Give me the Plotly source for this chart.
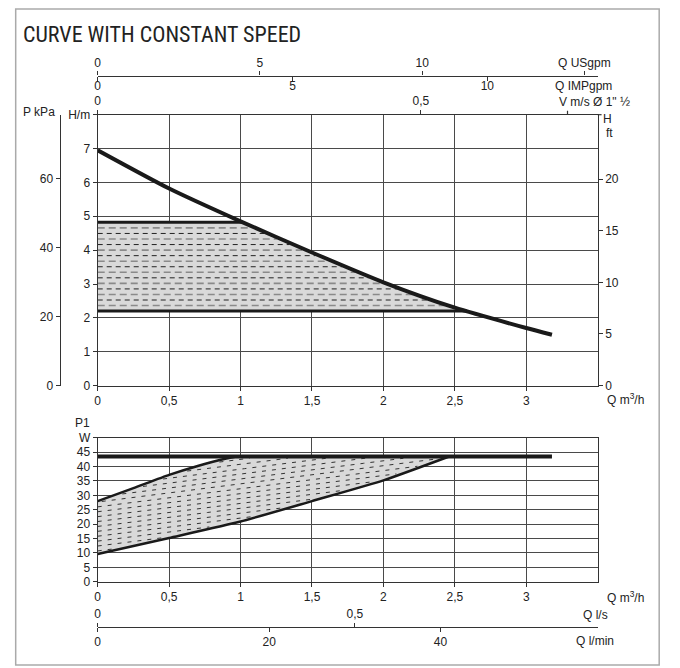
import numpy as np
import plotly.graph_objects as go

# ---------------- data ----------------
# Head curve (constant speed)
q_head = [0.0, 0.5, 1.0, 1.5, 2.0, 2.5, 3.0, 3.18]
h_head = [6.95, 5.82, 4.85, 3.93, 3.05, 2.30, 1.70, 1.50]
h_band_min = 2.2
h_band_max = 4.82

# Power P1
p1_max_q = [0.0, 0.25, 0.5, 0.7, 0.9, 0.97]
p1_max_w = [28.0, 32.5, 37.1, 40.2, 42.8, 43.5]
p1_min_q = [0.0, 0.5, 1.0, 1.5, 2.0, 2.46]
p1_min_w = [9.6, 15.2, 20.9, 28.0, 35.2, 43.5]
p1_cap_w = 43.5
p1_cap_q_end = 3.18

# axes ticks
q_ticks = [0, 0.5, 1, 1.5, 2, 2.5, 3]
q_ticktext = ["0", "0,5", "1", "1,5", "2", "2,5", "3"]
h_ticks = [0, 1, 2, 3, 4, 5, 6, 7, 8]
h_ticktext = ["0", "1", "2", "3", "4", "5", "6", "7", "H/m"]
kpa_ticks = [0, 20, 40, 60]
ft_ticks = [0, 5, 10, 15, 20]
usgpm_ticks = [0, 5, 10, 15]
usgpm_text = ["0", "5", "10", "Q USgpm"]
impgpm_ticks = [0, 5, 10]
v_ticks = [0, 0.5]
v_text = ["0", "0,5"]
v_unit_tick = 0.727
p1_ticks = [0, 5, 10, 15, 20, 25, 30, 35, 40, 45, 50]
p1_text = ["0", "5", "10", "15", "20", "25", "30", "35", "40", "45", "W"]
ls_ticks = [0, 0.5]
ls_text = ["0", "0,5"]
lmin_ticks = [0, 20, 40]

# unit conversions
Q_MAX = 3.5
H_MAX = 8.0
M_TO_KPA = 9.80665
M_TO_FT = 3.28084
M3H_TO_USGPM = 4.40287
M3H_TO_IMPGPM = 3.66615
M3H_TO_VMS = 1 / (3600 * np.pi * 0.04 ** 2 / 4)
M3H_TO_LS = 1 / 3.6
M3H_TO_LMIN = 1000 / 60

W, H = 680, 668
def px(x): return x / W
def py(y): return 1 - y / H

XDOM = [px(97), px(609)]
UP_DOM = [py(386.7), py(110)]
LO_DOM = [py(587), py(440)]

INK = "#1a1a1a"
GRID = "#4a4a4a"
FILL = "#d9d9d9"
FONT = dict(family="Liberation Sans, Arial, sans-serif", size=12, color="#222")

fig = go.Figure()

# ---------------- upper chart ----------------
qh_r = np.array(q_head[::-1]); hh_r = np.array(h_head[::-1])
q_top = float(np.interp(h_band_max, hh_r, qh_r))
q_bot = float(np.interp(h_band_min, hh_r, qh_r))
qa = np.array(q_head); ha = np.array(h_head)
inner = (qa > q_top) & (qa < q_bot)
poly_q = [0, q_top] + list(qa[inner]) + [q_bot, 0, 0]
poly_h = [h_band_max, h_band_max] + list(ha[inner]) + [h_band_min, h_band_min, h_band_max]
fig.add_trace(go.Scatter(x=poly_q, y=poly_h, fill="toself", fillcolor=FILL,
                         line=dict(width=0), mode="lines", showlegend=False, hoverinfo="skip"))

# hatch (decorative dashed lines inside the band)
n_hatch = 16
for k in range(1, n_hatch):
    lvl = h_band_min + k * (h_band_max - h_band_min) / n_hatch
    qe = float(np.interp(lvl, hh_r, qh_r)) - 0.03
    if k % 2:
        ln = dict(color="#8a8a8a", width=1.6, dash="7px,4px")
    else:
        ln = dict(color="#222", width=1, dash="5px,4px")
    fig.add_trace(go.Scatter(x=[0, qe], y=[lvl, lvl], mode="lines", line=ln,
                             showlegend=False, hoverinfo="skip"))

fig.add_trace(go.Scatter(x=[0, q_top], y=[h_band_max, h_band_max], mode="lines",
                         line=dict(color=INK, width=3), showlegend=False, hoverinfo="skip"))
fig.add_trace(go.Scatter(x=[0, q_bot], y=[h_band_min, h_band_min], mode="lines",
                         line=dict(color=INK, width=3), showlegend=False, hoverinfo="skip"))
fig.add_trace(go.Scatter(x=q_head, y=h_head, mode="lines",
                         line=dict(color=INK, width=4, shape="spline", smoothing=0.6),
                         showlegend=False, hoverinfo="skip"))

# dummy traces for secondary axes
for xa, ya in [("x2", "y"), ("x3", "y"), ("x4", "y"), ("x", "y2"), ("x", "y3"),
               ("x6", "y4"), ("x7", "y4")]:
    fig.add_trace(go.Scatter(x=[None], y=[None], xaxis=xa, yaxis=ya, mode="lines",
                             showlegend=False, hoverinfo="skip"))

# ---------------- lower chart ----------------
low_q_r = p1_min_q[::-1]; low_w_r = p1_min_w[::-1]
lp_q = list(p1_max_q) + [p1_min_q[-1]] + low_q_r + [p1_max_q[0]]
lp_w = list(p1_max_w) + [p1_cap_w] + low_w_r + [p1_max_w[0]]
fig.add_trace(go.Scatter(x=lp_q, y=lp_w, fill="toself", fillcolor=FILL, line=dict(width=0),
                         mode="lines", xaxis="x5", yaxis="y4", showlegend=False, hoverinfo="skip"))

# slanted dashed hatch rows (decorative)
qs = np.linspace(0, p1_min_q[-1], 700)
upper_b = np.interp(qs, p1_max_q, p1_max_w)
lower_b = np.interp(qs, p1_min_q, p1_min_w)
slope = 6.3
c = -8.0
while c < p1_cap_w:
    row = c + slope * qs
    ok = (row > lower_b + 0.6) & (row < upper_b - 0.6)
    if ok.any():
        yv = np.where(ok, row, np.nan)
        fig.add_trace(go.Scatter(x=qs, y=yv, mode="lines", xaxis="x5", yaxis="y4",
                                 line=dict(color="#333", width=1, dash="4px,6px"),
                                 connectgaps=False, showlegend=False, hoverinfo="skip"))
    c += 1.7

fig.add_trace(go.Scatter(x=p1_max_q, y=p1_max_w, mode="lines", xaxis="x5", yaxis="y4",
                         line=dict(color=INK, width=2.5, shape="spline", smoothing=0.5),
                         showlegend=False, hoverinfo="skip"))
fig.add_trace(go.Scatter(x=p1_min_q, y=p1_min_w, mode="lines", xaxis="x5", yaxis="y4",
                         line=dict(color=INK, width=2.5, shape="spline", smoothing=0.5),
                         showlegend=False, hoverinfo="skip"))
fig.add_trace(go.Scatter(x=[0, p1_cap_q_end], y=[p1_cap_w, p1_cap_w], mode="lines",
                         xaxis="x5", yaxis="y4", line=dict(color=INK, width=4),
                         showlegend=False, hoverinfo="skip"))

# ---------------- axes ----------------
axline = dict(showline=True, linecolor="#333", linewidth=1.2, zeroline=False,
              ticks="outside", ticklen=4, tickcolor="#333", tickfont=FONT)

fig.update_layout(
    width=W, height=H, margin=dict(l=0, r=0, t=0, b=0),
    paper_bgcolor="white", plot_bgcolor="white", font=FONT, showlegend=False,
    xaxis=dict(domain=XDOM, range=[0, Q_MAX], anchor="y", side="bottom",
               tickvals=q_ticks, ticktext=q_ticktext, showgrid=True,
               gridcolor=GRID, gridwidth=1, **axline),
    xaxis2=dict(overlaying="x", anchor="y", side="top",
                range=[0, Q_MAX * M3H_TO_VMS], tickvals=v_ticks, ticktext=v_text,
                showgrid=False, **axline),
    xaxis3=dict(overlaying="x", anchor="free", position=py(70), side="top",
                range=[0, Q_MAX * M3H_TO_USGPM], tickvals=usgpm_ticks, ticktext=usgpm_text,
                showgrid=False, **axline),
    xaxis4=dict(overlaying="x", anchor="free", position=py(70), side="bottom",
                range=[0, Q_MAX * M3H_TO_IMPGPM], tickvals=impgpm_ticks,
                ticklabelstandoff=-5, showgrid=False, **axline),
    yaxis=dict(domain=UP_DOM, range=[0, H_MAX], anchor="x", side="left",
               tickvals=h_ticks, ticktext=h_ticktext, showgrid=True,
               gridcolor=GRID, gridwidth=1, **axline),
    yaxis2=dict(overlaying="y", anchor="free", position=px(58), side="left",
                range=[0, H_MAX * M_TO_KPA], tickvals=kpa_ticks, showgrid=False, **axline),
    yaxis3=dict(overlaying="y", anchor="x", side="right",
                range=[0, H_MAX * M_TO_FT], tickvals=ft_ticks,
                ticktext=[str(t) for t in ft_ticks], showgrid=False, **axline),
    xaxis5=dict(domain=XDOM, range=[0, Q_MAX], anchor="y4", side="bottom",
                tickvals=q_ticks, ticktext=q_ticktext, showgrid=True, gridcolor=GRID,
                gridwidth=1, mirror=True, **axline),
    yaxis4=dict(domain=LO_DOM, range=[0, 50], anchor="x5", side="left",
                tickvals=p1_ticks, ticktext=p1_text, showgrid=True, gridcolor=GRID,
                gridwidth=1, mirror=True, **axline),
    xaxis6=dict(overlaying="x5", anchor="free", position=py(633), side="top",
                range=[0, Q_MAX * M3H_TO_LS], tickvals=ls_ticks, ticktext=ls_text,
                showgrid=False, **axline),
    xaxis7=dict(overlaying="x5", anchor="free", position=py(633), side="bottom",
                range=[0, Q_MAX * M3H_TO_LMIN], tickvals=lmin_ticks,
                showgrid=False, **axline),
)

# tick mark next to the velocity unit label
fig.add_shape(type="line", xref="x2", yref="paper", x0=v_unit_tick, x1=v_unit_tick,
              y0=UP_DOM[1], y1=UP_DOM[1] + 4 / H, line=dict(color="#333", width=1.2))
# top tick of the ft axis (unit label "H")
fig.add_shape(type="line", xref="paper", yref="paper", x0=XDOM[1], x1=XDOM[1] + 4 / W,
              y0=UP_DOM[1], y1=UP_DOM[1], line=dict(color="#333", width=1.2))

# ---------------- annotations ----------------
def note(text, x, y, xanchor="left", size=12, family=None):
    f = dict(FONT); f["size"] = size
    if family: f["family"] = family
    fig.add_annotation(text=text, x=px(x), y=py(y), xref="paper", yref="paper",
                       xanchor=xanchor, yanchor="middle", showarrow=False, font=f)

note("CURVE WITH CONSTANT SPEED", 18, 28, size=22,
     family="Roboto Condensed, DejaVu Sans Condensed, Roboto, Liberation Sans")
note("Q IMPgpm", 594, 81, xanchor="center")
note("V m/s Ø 1\" ½", 567, 97)
note("P kPa", 55, 107, xanchor="right")
note("H", 612, 114)
note("ft", 615, 129)
note("Q m<sup>3</sup>/h", 616, 400)
note("P1", 91, 425, xanchor="right")
note("Q m<sup>3</sup>/h", 616, 603)
note("Q l/s", 592, 621)
note("Q l/min", 585, 648)

fig.add_shape(type="rect", xref="paper", yref="paper", x0=px(13), y0=py(672),
              x1=px(672), y1=py(2), line=dict(color="#aaaaaa", width=1.5),
              fillcolor="rgba(0,0,0,0)", layer="below")

fig.write_html("out.html", config={"displayModeBar": False},
               post_script="document.body.style.margin='0px';document.body.style.overflow='hidden';")
